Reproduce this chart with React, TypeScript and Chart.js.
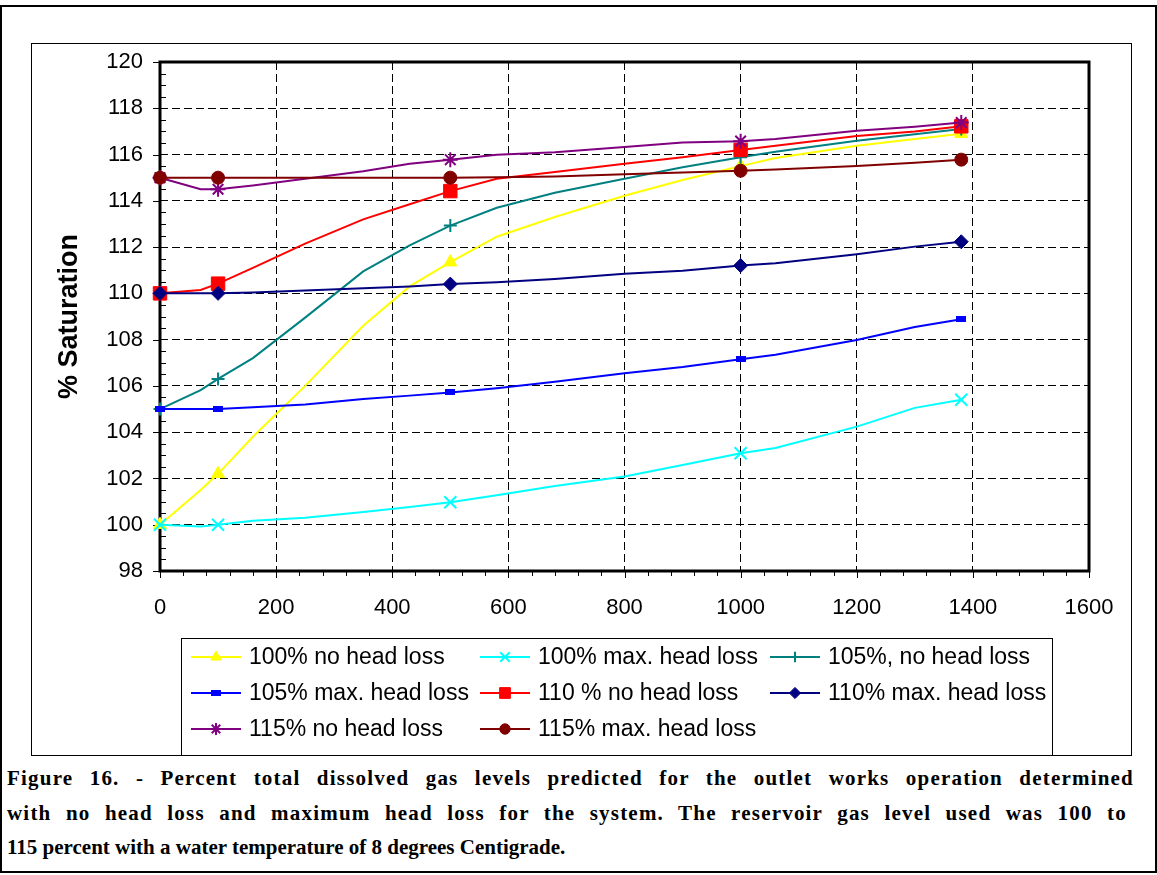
import { useEffect, useRef } from 'react';
import { Chart, registerables } from 'chart.js';
import { drawPoint } from 'chart.js/helpers';

Chart.register(...registerables);

// Distance along the outlet works (x axis) where each curve is sampled
const distance = [0, 70, 100, 160, 250, 350, 430, 500, 580, 680, 800, 900, 1000, 1060, 1200, 1300, 1380];
// Distances that carry a symbol on every curve
const markedDistances = [0, 100, 500, 1000, 1380];

// % saturation for each reservoir level / head-loss case
const noLoss100 = [100.0, 101.5, 102.2, 103.8, 106.0, 108.6, 110.3, 111.35, 112.45, 113.3, 114.22, 114.9, 115.5, 115.85, 116.38, 116.67, 116.9];
const maxLoss100 = [100.0, 99.92, 100.0, 100.17, 100.3, 100.55, 100.77, 100.97, 101.27, 101.67, 102.08, 102.58, 103.09, 103.32, 104.24, 105.05, 105.4];
const noLoss105 = [105.0, 105.82, 106.3, 107.2, 108.95, 110.95, 112.07, 112.93, 113.7, 114.35, 114.95, 115.45, 115.88, 116.12, 116.6, 116.88, 117.1];
const maxLoss105 = [105.0, 105.0, 105.0, 105.08, 105.2, 105.43, 105.58, 105.72, 105.9, 106.18, 106.55, 106.82, 107.15, 107.35, 107.98, 108.55, 108.88];
const noLoss110 = [110.0, 110.15, 110.42, 111.1, 112.15, 113.2, 113.85, 114.42, 114.95, 115.25, 115.6, 115.88, 116.2, 116.38, 116.8, 117.0, 117.22];
const maxLoss110 = [110.0, 110.0, 110.0, 110.04, 110.12, 110.22, 110.3, 110.4, 110.48, 110.62, 110.85, 110.98, 111.2, 111.3, 111.69, 112.02, 112.23];
const noLoss115 = [115.0, 114.5, 114.5, 114.66, 114.95, 115.28, 115.6, 115.78, 115.99, 116.1, 116.33, 116.52, 116.58, 116.67, 117.03, 117.2, 117.38];
const maxLoss115 = [115.0, 115.0, 115.0, 115.0, 115.0, 115.0, 115.0, 115.0, 115.02, 115.05, 115.15, 115.22, 115.3, 115.35, 115.5, 115.65, 115.78];

const seriesLabels = [
  '100% no head loss',
  '100% max. head loss',
  '105%, no head loss',
  '105% max. head loss',
  '110 % no head loss',
  '110% max. head loss',
  '115% no head loss',
  '115% max. head loss',
];
const seriesValues = [noLoss100, maxLoss100, noLoss105, maxLoss105, noLoss110, maxLoss110, noLoss115, maxLoss115];

const xTickRange = { min: 0, max: 1600, step: 200, minorStep: 40 };
const yTickRange = { min: 98, max: 120, step: 2, minorStep: 0.5 };

const FONT = "'Liberation Sans', Arial, sans-serif";

function smallBar(color: string) {
  const c = document.createElement('canvas');
  c.width = 10;
  c.height = 6;
  const g = c.getContext('2d')!;
  g.fillStyle = color;
  g.fillRect(0, 0, 10, 6);
  return c;
}

// Plot frame, minor ticks and outward major ticks
const axisFrame = {
  id: 'axisFrame',
  beforeDatasetsDraw(chart: any) {
    const { ctx, chartArea: a, scales } = chart;
    const x = scales.x;
    const y = scales.y;
    ctx.save();
    ctx.strokeStyle = '#000';
    ctx.lineWidth = 1;
    ctx.beginPath();
    const ny = Math.round((yTickRange.max - yTickRange.min) / yTickRange.minorStep);
    for (let i = 0; i <= ny; i++) {
      const v = yTickRange.min + i * yTickRange.minorStep;
      const py = Math.round(y.getPixelForValue(v)) + 0.5;
      const major = i % Math.round(yTickRange.step / yTickRange.minorStep) === 0;
      if (major) {
        ctx.moveTo(a.left - 7, py);
        ctx.lineTo(a.left, py);
      } else {
        ctx.moveTo(a.left, py);
        ctx.lineTo(a.left + 6, py);
      }
    }
    const nx = Math.round((xTickRange.max - xTickRange.min) / xTickRange.minorStep);
    for (let i = 0; i <= nx; i++) {
      const v = xTickRange.min + i * xTickRange.minorStep;
      const px = Math.round(x.getPixelForValue(v)) + 0.5;
      const major = i % Math.round(xTickRange.step / xTickRange.minorStep) === 0;
      ctx.moveTo(px, a.bottom);
      ctx.lineTo(px, a.bottom + (major ? 7 : 5));
    }
    ctx.stroke();
    ctx.lineWidth = 3;
    ctx.strokeRect(a.left, a.top, a.right - a.left, a.bottom - a.top);
    ctx.restore();
  },
};

// Three-column boxed legend below the plot
const gridLegend = {
  id: 'gridLegend',
  afterDraw(chart: any) {
    const { ctx } = chart;
    const box = { x: 149, y: 594, w: 871, h: 130 };
    const colX = [159, 448, 738];
    const rowY = [613, 649, 685];
    ctx.save();
    ctx.strokeStyle = '#000';
    ctx.lineWidth = 1;
    ctx.strokeRect(box.x + 0.5, box.y + 0.5, box.w, box.h);
    chart.data.datasets.forEach((ds: any, i: number) => {
      const x0 = colX[i % 3];
      const yc = rowY[Math.floor(i / 3)];
      ctx.strokeStyle = ds.borderColor;
      ctx.lineWidth = 2;
      ctx.beginPath();
      ctx.moveTo(x0, yc);
      ctx.lineTo(x0 + 50, yc);
      ctx.stroke();
      ctx.fillStyle = ds.borderColor;
      ctx.strokeStyle = ds.borderColor;
      ctx.lineWidth = ds.markerBorder;
      drawPoint(ctx, { pointStyle: ds.markerStyle, radius: ds.markerSize * 0.8, rotation: 0, borderWidth: ds.markerBorder } as any, x0 + 25, yc);
      ctx.fillStyle = '#000';
      ctx.font = `23px ${FONT}`;
      ctx.textBaseline = 'middle';
      ctx.textAlign = 'left';
      ctx.fillText(ds.label, x0 + 58, yc + 1);
    });
    ctx.restore();
  },
};

export default function App() {
  const canvasRef = useRef<HTMLCanvasElement>(null);

  useEffect(() => {
    const colors = ['#FFFF00', '#00FFFF', '#008080', '#0000FF', '#FF0000', '#000080', '#800080', '#800000'];
    const styles: any[] = ['triangle', 'crossRot', 'cross', smallBar('#0000FF'), 'rect', 'rectRot', 'star', 'circle'];
    const sizes = [7.5, 8.5, 6.5, 4, 9.5, 7, 7.5, 6.5];
    const borders = [1, 2, 2, 1, 1, 1, 2, 1];

    const datasets = seriesLabels.map((label, i) => ({
      label,
      data: distance.map((d, k) => ({ x: d, y: seriesValues[i][k] })),
      borderColor: colors[i],
      backgroundColor: colors[i],
      borderWidth: 2,
      pointStyle: styles[i],
      pointBackgroundColor: colors[i],
      pointBorderColor: colors[i],
      pointBorderWidth: borders[i],
      pointRadius: (c: any) => (c.raw && markedDistances.includes(c.raw.x) ? sizes[i] : 0),
      pointHoverRadius: 0,
      tension: 0,
      clip: false as any,
      order: seriesLabels.length - i,
      markerStyle: styles[i],
      markerSize: sizes[i],
      markerBorder: borders[i],
    }));

    const chart = new Chart(canvasRef.current!, {
      type: 'line',
      data: { datasets } as any,
      options: {
        animation: false,
        responsive: false,
        events: [],
        layout: { autoPadding: false, padding: { left: 0, top: 18, right: 42, bottom: 134 } },
        plugins: { legend: { display: false }, tooltip: { enabled: false } },
        scales: {
          x: {
            type: 'linear',
            min: xTickRange.min,
            max: xTickRange.max,
            afterFit: (s: any) => {
              s.height = 50;
              s.paddingLeft = 0;
              s.paddingRight = 0;
            },
            ticks: {
              stepSize: xTickRange.step,
              color: '#000',
              font: { family: FONT, size: 22 },
              padding: 24,
              maxRotation: 0,
              autoSkip: false,
              callback: (v: any) => String(v),
            },
            grid: { color: '#000', lineWidth: 1, drawTicks: false },
            border: { display: false, dash: [8, 4] },
          },
          y: {
            type: 'linear',
            min: yTickRange.min,
            max: yTickRange.max,
            afterFit: (s: any) => {
              s.width = 128;
              s.paddingTop = 0;
              s.paddingBottom = 0;
            },
            ticks: {
              stepSize: yTickRange.step,
              color: '#000',
              font: { family: FONT, size: 22 },
              padding: 17,
              callback: (v: any) => String(v),
            },
            grid: { color: '#000', lineWidth: 1, drawTicks: false },
            border: { display: false, dash: [8, 4] },
            title: {
              display: true,
              text: '% Saturation',
              color: '#000',
              font: { family: FONT, size: 27, weight: 'bold' },
              padding: { top: 21, bottom: 4 },
            },
          },
        },
      } as any,
      plugins: [axisFrame, gridLegend],
    });
    return () => chart.destroy();
  }, []);

  // Caption: the first two lines are justified across the frame, the last is ragged
  const captionLines = [
    { text: 'Figure 16. -  Percent total dissolved gas levels predicted for the outlet works operation determined', width: 1127 },
    { text: 'with no head loss and maximum head loss for the system.  The reservoir gas level used was 100 to', width: 1120 },
    { text: '115 percent with a water temperature of 8 degrees Centigrade.', width: 0 },
  ];

  return (
    <div style={{ position: 'relative', width: 1157, height: 875, background: '#fff' }}>
      <style>{'body{margin:0;}'}</style>
      <div
        style={{
          position: 'absolute',
          left: 0,
          top: 5,
          width: 1157,
          height: 868,
          border: '2px solid #000',
          boxSizing: 'border-box',
        }}
      />
      <div
        style={{
          position: 'absolute',
          left: 31,
          top: 43,
          width: 1101,
          height: 713,
          border: '1px solid #000',
          boxSizing: 'border-box',
        }}
      />
      <canvas ref={canvasRef} width={1099} height={711} style={{ position: 'absolute', left: 32, top: 44 }} />
      <div
        style={{
          position: 'absolute',
          left: 7,
          top: 761,
          fontFamily: "'Liberation Serif', 'Times New Roman', serif",
          fontWeight: 'bold',
          fontSize: '21px',
          lineHeight: '34.5px',
          color: '#000',
        }}
      >
        {captionLines.map((l) => (
          <div
            key={l.text}
            style={
              l.width
                ? { width: l.width, letterSpacing: '1.2px', textAlign: 'justify', textAlignLast: 'justify' as any }
                : { whiteSpace: 'pre' }
            }
          >
            {l.text}
          </div>
        ))}
      </div>
    </div>
  );
}
